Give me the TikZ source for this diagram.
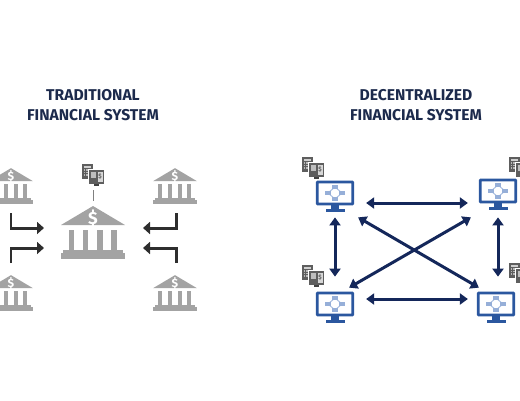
\documentclass[tikz,border=0pt]{standalone}
\usepackage{xcolor}
\usepackage{fontspec}
\setmainfont{Fira Sans}
\usetikzlibrary{arrows.meta,calc}
\definecolor{navy}{HTML}{14275A}
\definecolor{inkt}{HTML}{1C2A4C}
\definecolor{monb}{HTML}{2B579F}
\definecolor{icob}{HTML}{A9BEE2}
\definecolor{bankg}{HTML}{A3A3A3}
\definecolor{docg}{HTML}{5E5E5E}
\definecolor{inkd}{HTML}{2E2E2E}
\tikzset{
  title/.style={align=center, text=inkt, inner sep=0pt, font=\fontsize{8.9}{11.3}\selectfont\bfseries},
  fl/.style={-{Triangle[length=1.4mm,width=2.4mm]}, line width=0.6mm, draw=inkd},
  dbl/.style={{Triangle[length=1.6mm,width=2.2mm]}-{Triangle[length=1.6mm,width=2.2mm]}, line width=0.6mm, draw=navy},
  stem/.style={line width=0.3pt, draw=gray},
  cash/.style={text=docg, inner sep=0pt, font=\fontsize{3.5}{3.5}\selectfont\bfseries},
  bank/.pic={
    \fill[bankg] (0,-27) -- (32,-8) -- (-32,-8) -- cycle;
    \foreach \cx in {-21.5,-7.5,7,21} \fill[bankg] (\cx-2.8,-3) rectangle (\cx+2.8,18);
    \fill[bankg] (-30,17) rectangle (30,22);
    \fill[bankg] (-32,20) rectangle (32,26);
    \node[text=white, inner sep=0pt, transform shape, font=\fontsize{10}{10}\selectfont\bfseries] (-sign) at (0,-14.5) {\$};
    \coordinate (-top) at (0,-27);
    \coordinate (-foot) at (0,26);
    \coordinate (-west) at (-32,0);
    \coordinate (-east) at (32,0);
  },
  docs/.pic={
    \fill[docg] (0,0) rectangle (11,15);
    \fill[white!70!docg] (2,1.5) rectangle (9,3.5);
    \foreach \gy in {5,7.6,10.2} \foreach \gx in {1.5,4.4,7.3}
      \fill[white!55!docg] (\gx,\gy) rectangle (\gx+1.8,\gy+1.6);
    \fill[white] (6,5) rectangle (23,21);
    \fill[docg] (7,6) rectangle (22,20);
    \fill[white!75!docg] (15.5,7.5) rectangle (20.5,18);
    \fill[white!60!docg] (9,8) rectangle (13.5,14);
    \fill[docg!70!black] (12,20) rectangle (17,21.5);
    \coordinate (-foot) at (11,22);
    \coordinate (-mark) at (18,12.7);
  },
  screen/.pic={
    \node[draw=monb, fill=white, line width=0.55mm, rounded corners=0.3pt, minimum width=7.1mm, minimum height=4.4mm, inner sep=0pt] (-box) at (0,0) {};
    \fill[monb] (-4,11.5) rectangle (4,17);
    \fill[monb] (-9.5,16) rectangle (9.5,19);
    \draw[icob, line width=0.2mm] (0,-6) -- (7,0) -- (0,6) -- (-7,0) -- cycle;
    \foreach \ix/\iy in {0/-6,7/0,0/6,-7/0}
      \fill[icob!85!monb] (\ix-2.6,\iy-2.4) rectangle (\ix+2.6,\iy+2.4);
    \fill[white] (0,0) circle (1.2);
  },
}
\begin{document}
\begin{tikzpicture}[x=0.02cm,y=-0.02cm]
  \clip (0,0) rectangle (520,400);
  \node[title] (titleL) at (93,105.5) {TRADITIONAL\\FINANCIAL SYSTEM};
  \node[title] (titleR) at (416,105.5) {DECENTRALIZED\\FINANCIAL SYSTEM};

  \pic (bankC) at (93,233) {bank};
  \pic[scale=.68] (bankTL) at (11,186.5) {bank};
  \pic[scale=.68] (bankBL) at (11,293.5) {bank};
  \pic[scale=.68] (bankTR) at (175,186.5) {bank};
  \pic[scale=.68] (bankBR) at (175,293.5) {bank};
  \pic (docsC) at (82,164) {docs};
  \node[cash] (cashC) at (docsC-mark) {\$};
  \draw[stem] ($(docsC-foot)+(0,4)$) -- ($(bankC-top)+(0,-5)$);

  \draw[fl] ($(bankTL-foot)+(0,9)$) |- ($(bankC-west)+(-17,-5)$);
  \draw[fl] ($(bankBL-top)+(0,-12)$) |- ($(bankC-west)+(-17,15)$);
  \draw[fl] ($(bankTR-foot)+(1,9)$) |- ($(bankC-east)+(18,-5)$);
  \draw[fl] ($(bankBR-top)+(1,-12)$) |- ($(bankC-east)+(18,15)$);

  \pic (monTL) at (335,193) {screen};
  \pic (monTR) at (498,191) {screen};
  \pic (monBL) at (335,304) {screen};
  \pic (monBR) at (496,304) {screen};
  \pic (docsTL) at (302,157) {docs};
  \node[cash] (cashTL) at (docsTL-mark) {\$};
  \pic (docsTR) at (509,157) {docs};
  \pic (docsBL) at (302,265) {docs};
  \node[cash] (cashBL) at (docsBL-mark) {\$};
  \pic (docsBR) at (509,263) {docs};

  \draw[dbl] ($(monTL-box.east)+(12,10)$) -- ($(monTR-box.west)+(-11,12)$);
  \draw[dbl] ($(monBL-box.east)+(12,-5)$) -- ($(monBR-box.west)+(-9,-5)$);
  \draw[dbl] ($(monTL-box.south)+(0,12)$) -- ($(monBL-box.north)+(0,-15)$);
  \draw[dbl] ($(monTR-box.south)+(0,14)$) -- ($(monBR-box.north)+(2,-15)$);
  \draw[dbl] ($(monTL-box.south east)+(4,12)$) -- ($(monBR-box.north west)+(2,-4)$);
  \draw[dbl] ($(monTR-box.south west)+(-8,14)$) -- ($(monBL-box.north east)+(-5,-4)$);
\end{tikzpicture}
\end{document}
